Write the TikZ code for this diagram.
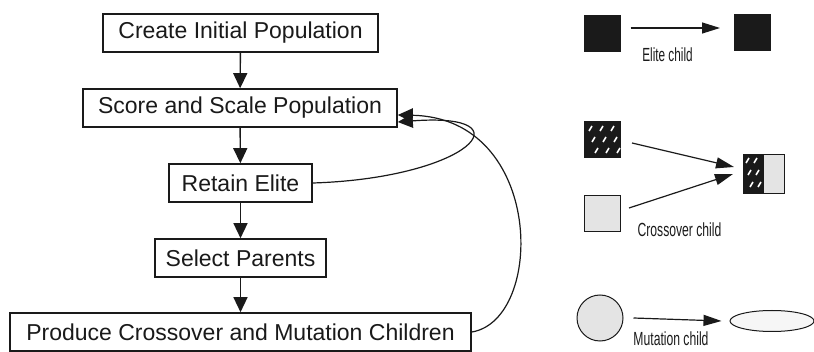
\documentclass[tikz,border=0pt]{standalone}
\usepackage{fontspec}
\setmainfont{Liberation Sans}
\usepackage{tikz}
\usetikzlibrary{arrows.meta,shapes.geometric}
\definecolor{gaink}{RGB}{26,26,26}
\definecolor{galight}{RGB}{228,228,228}
\definecolor{gapale}{RGB}{246,246,246}

\begin{document}
\begin{tikzpicture}[x=1pt, y=-1pt,
    stepbox/.style={draw=gaink, line width=1.6pt, fill=white, inner sep=0pt,
        minimum height=38pt, text=gaink, font=\fontsize{23}{26}\selectfont},
    flow/.style={draw=gaink, line width=1.4pt, -{Triangle[length=15pt, width=14pt]}},
    demo/.style={draw=gaink, line width=1.2pt, -{Triangle[length=18pt, width=11pt]}},
    note/.style={text=gaink, inner sep=0pt, font=\fontsize{19}{21}\selectfont}]
    \useasboundingbox (0,0) rectangle (814,352);

    % flow chart
    \node[stepbox, minimum width=275pt] (create) at (240.5,33) {Create Initial Population};
    \node[stepbox, minimum width=314pt] (score) at (240,108) {Score and Scale Population};
    \node[stepbox, minimum width=143pt] (elite) at (240.5,183) {Retain Elite};
    \node[stepbox, minimum width=171pt] (select) at (240.5,258) {Select Parents};
    \node[stepbox, minimum width=461pt] (produce) at (240.5,332) {Produce Crossover and Mutation Children};

    \draw[flow] (create) -- (score);
    \draw[flow] (score) -- (elite);
    \draw[flow] (elite) -- (select);
    \draw[flow] (select) -- (produce);

    \draw[flow, line width=1.2pt] (elite.east) .. controls (470,178) and (530,112) .. ([yshift=-14pt]score.east);
    \draw[flow, line width=1.2pt] (produce.east) .. controls (545,320) and (545,118) .. ([yshift=-7pt]score.east);

    % elite child
    \node[draw=gaink, fill=gaink, minimum size=36pt, inner sep=0pt] (eparent) at (602.5,33) {};
    \node[draw=gaink, fill=gaink, minimum size=36pt, inner sep=0pt] (echild) at (752.5,32) {};
    \coordinate (etip) at (720,28);
    \draw[demo] ([xshift=10pt,yshift=5pt]eparent.east) -- (etip);
    \node[note] (elabel) at (667.5,55) {\scalebox{0.62}[1]{Elite child}};

    % crossover child
    \node[draw=gaink, fill=gaink, minimum size=36pt, inner sep=0pt] (xparent) at (602,139) {};
    \foreach \i in {0,1,2} \foreach \j in {0,1,2}
        \draw[white, line width=1.6pt] ({589+11*\i+3*\j},{131+11*\j}) -- ++(3,-5);
    \node[draw=gaink, fill=galight, minimum size=36pt, inner sep=0pt] (yparent) at (602,213) {};
    \node[draw=gaink, fill=gaink, minimum width=20pt, minimum height=39pt, inner sep=0pt] (xhalf) at (753,173.5) {};
    \foreach \i in {0,1} \foreach \j in {0,1,2}
        \draw[white, line width=1.6pt] ({746+8*\i+2*\j},{163+12*\j}) -- ++(3,-5);
    \node[draw=gaink, fill=galight, minimum width=21pt, minimum height=39pt, inner sep=0pt, anchor=west] (yhalf) at (xhalf.east) {};
    \coordinate (xtip) at (734,167);
    \coordinate (ytip) at (733,174);
    \draw[demo] (632,143) -- (xtip);
    \draw[demo] (629,208) -- (ytip);
    \node[note] (xlabel) at (679.5,230) {\scalebox{0.64}[1]{Crossover child}};

    % mutation child
    \node[draw=gaink, fill=galight, circle, minimum size=46pt, inner sep=0pt, line width=1pt] (mparent) at (600,318) {};
    \node[draw=gaink, fill=gapale, ellipse, minimum width=84pt, minimum height=21pt, inner sep=0pt, line width=1pt] (mchild) at (772,321) {};
    \draw[demo] ([xshift=10pt]mparent.east) -- ([xshift=-8pt]mchild.west);
    \node[note] (mlabel) at (671,339) {\scalebox{0.64}[1]{Mutation child}};
\end{tikzpicture}
\end{document}
